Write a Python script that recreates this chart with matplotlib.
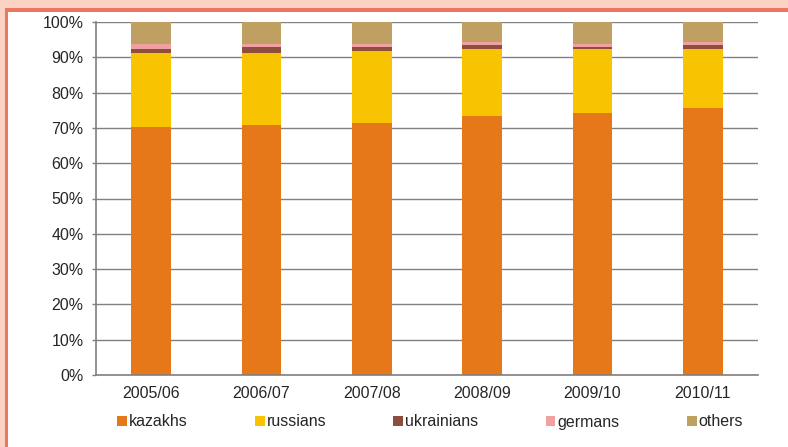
import matplotlib
matplotlib.use("Agg")
import matplotlib.pyplot as plt
from matplotlib.patches import Rectangle, Patch
import numpy as np

plt.rcParams['font.family'] = ['Liberation Sans', 'DejaVu Sans']

years = ["2005/06", "2006/07", "2007/08", "2008/09", "2009/10", "2010/11"]
groups = ["kazakhs", "russians", "ukrainians", "germans", "others"]
kazakhs = [70.3, 70.9, 71.5, 73.5, 74.2, 75.7]
russians = [20.8, 20.2, 20.2, 18.9, 18.2, 16.7]
ukrainians = [1.3, 1.9, 1.3, 1.2, 0.6, 1.2]
germans = [1.4, 0.8, 0.8, 0.8, 0.8, 0.8]
others = [6.2, 6.2, 6.2, 5.6, 6.2, 5.6]
yticks = [0, 10, 20, 30, 40, 50, 60, 70, 80, 90, 100]

colors = ["#E6781A", "#F8C300", "#8E4E3E", "#F0A0A0", "#BF9F62"]
series = [kazakhs, russians, ukrainians, germans, others]

W, H = 788, 447
fig = plt.figure(figsize=(W / 100, H / 100), dpi=100)
fig.patch.set_facecolor("#FBD3C4")

def fx(px):
    return px / W

def fy(py):
    return 1 - py / H

# salmon border and white panel
fig.add_artist(Rectangle((fx(5), 0), 1 - fx(5), fy(8), transform=fig.transFigure,
                         facecolor="#F07462", edgecolor="none", zorder=0))
fig.add_artist(Rectangle((fx(8), 0), 1 - fx(8), fy(11.5), transform=fig.transFigure,
                         facecolor="white", edgecolor="none", zorder=0))

ax = fig.add_axes([fx(96), fy(375), fx(758) - fx(96), fy(22) - fy(375)])
ax.set_facecolor("none")

x = np.arange(len(years))
bottom = np.zeros(len(years))
for vals, c in zip(series, colors):
    ax.bar(x, vals, width=0.36, bottom=bottom, color=c, edgecolor="none", zorder=3)
    bottom += np.array(vals)

ax.set_xlim(-0.5, len(years) - 0.5)
ax.set_ylim(0, 100)
ax.set_yticks(yticks)
ax.set_yticklabels([f"{v}%" for v in yticks])
ax.set_xticks(x)
ax.set_xticklabels(years)
ax.grid(axis="y", color="#808080", linewidth=1.0, zorder=1)
ax.set_axisbelow(True)
for s in ["top", "right"]:
    ax.spines[s].set_visible(False)
for s in ["left", "bottom"]:
    ax.spines[s].set_color("#808080")
    ax.spines[s].set_linewidth(1.2)
ax.spines["bottom"].set_zorder(4)
ax.tick_params(axis="y", length=3, width=1.0, color="#808080", labelsize=11.5,
               labelcolor="#262626", pad=6)
ax.tick_params(axis="x", length=0, labelsize=11.5, labelcolor="#262626", pad=8)

handles = [Patch(facecolor=c, edgecolor="none") for c in colors]
leg = fig.legend(handles, groups, loc="center", bbox_to_anchor=(fx(430), fy(422)),
                 ncol=5, frameon=False, fontsize=11.5, handlelength=0.62,
                 handleheight=0.6, handletextpad=0.13, columnspacing=4.2,
                 labelcolor="#262626")

fig.savefig("out.png", dpi=100, facecolor=fig.get_facecolor())
